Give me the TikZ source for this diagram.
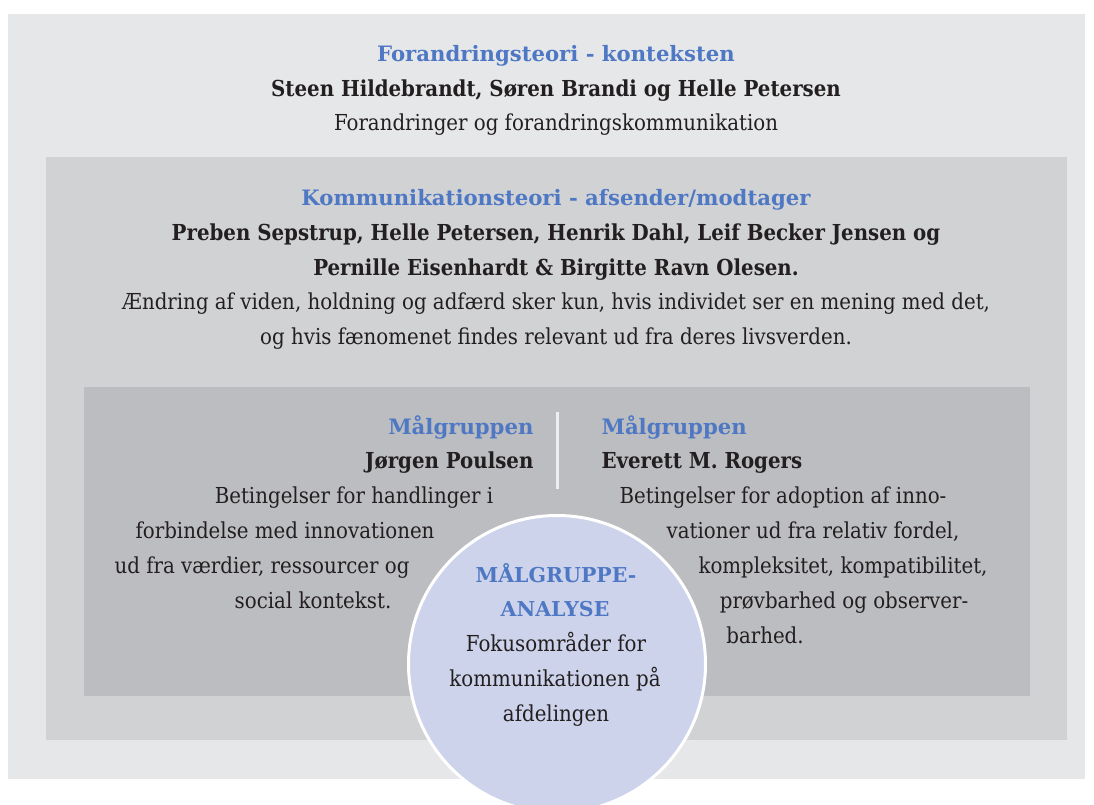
\documentclass[tikz,border=0pt]{standalone}
\usepackage{fontspec}
\setmainfont{DejaVu Serif Condensed}
\newfontfamily\overskriftfont{DejaVu Serif}
\definecolor{ydre}{HTML}{E6E7E9}
\definecolor{midt}{HTML}{D1D2D4}
\definecolor{indre}{HTML}{BCBDC0}
\definecolor{blaa}{HTML}{4F78C4}
\definecolor{moerk}{HTML}{231F20}
\definecolor{cirkelfarve}{HTML}{CDD3EB}
\newcommand{\brodtekst}{\fontsize{22}{26}\selectfont}
\newcommand{\overskrifttekst}{\overskriftfont\fontsize{21.2}{25}\selectfont\bfseries}

\tikzset{felt/.style={fill=#1},felt/.default={ydre},
overskrift/.style={text=blaa,font=\overskrifttekst,anchor=base},
navn/.style={text=moerk,font=\brodtekst\bfseries,anchor=base},
tekst/.style={text=moerk,font=\brodtekst,anchor=base}}

\begin{document}
\begin{tikzpicture}[x=1pt,y=-1pt]
\useasboundingbox (0,0) rectangle (1094,804);
\fill[felt] (8,14) rectangle (1085,779);
\fill[felt=midt] (46,157) rectangle (1067,740);
\fill[felt=indre] (84,387) rectangle (1030,696);
\draw[line width=3pt,draw=ydre!70!white] (557,412) -- (557,489);

\node[overskrift] (kontekst) at (556,61) {Forandringsteori - konteksten};
\node[navn] (kontekstnavne) at (556,96) {Steen Hildebrandt, Søren Brandi og Helle Petersen};
\node[tekst] (konteksttekst) at (556,130) {Forandringer og forandringskommunikation};

\node[overskrift] (kommunikation) at (556,205) {Kommunikationsteori - afsender/modtager};
\node[navn] (kommunikationnavne1) at (556,240) {Preben Sepstrup, Helle Petersen, Henrik Dahl, Leif Becker Jensen og};
\node[navn] (kommunikationnavne2) at (556,275) {Pernille Eisenhardt \& Birgitte Ravn Olesen.};
\node[tekst] (kommunikationtekst1) at (556,309) {Ændring af viden, holdning og adfærd sker kun, hvis individet ser en mening med det,};
\node[tekst] (kommunikationtekst2) at (556,344) {og hvis fænomenet findes relevant ud fra deres livsverden.};

\node[overskrift,anchor=base east] (poulsen) at (537,434) {Målgruppen};
\node[navn,anchor=base east] (poulsennavn) at (537,468) {Jørgen Poulsen};
\node[tekst] (poulsen1) at (354,503) {Betingelser for handlinger i};
\node[tekst] (poulsen2) at (285,538) {forbindelse med innovationen};
\node[tekst] (poulsen3) at (262,573) {ud fra værdier, ressourcer og};
\node[tekst] (poulsen4) at (313,608) {social kontekst.};

\node[overskrift,anchor=base west] (rogers) at (598,434) {Målgruppen};
\node[navn,anchor=base west] (rogersnavn) at (598,468) {Everett M. Rogers};
\node[tekst] (rogers1) at (783,503) {Betingelser for adoption af inno-};
\node[tekst] (rogers2) at (813,538) {vationer ud fra relativ fordel,};
\node[tekst] (rogers3) at (843,573) {kompleksitet, kompatibilitet,};
\node[tekst] (rogers4) at (844,608) {prøvbarhed og observer-};
\node[tekst] (rogers5) at (765,643) {barhed.};

\node[circle,minimum size=297pt,fill=cirkelfarve,draw=white,line width=3pt] (analyse) at (557,664) {};
\node[overskrift,font=\overskriftfont\fontsize{20.5}{24}\selectfont\bfseries] (analyse1) at (556,582) {MÅLGRUPPE-};
\node[overskrift,font=\overskriftfont\fontsize{20.5}{24}\selectfont\bfseries] (analyse2) at (555,616) {ANALYSE};
\node[tekst] (analyse3) at (556,651) {Fokusområder for};
\node[tekst] (analyse4) at (555,686) {kommunikationen på};
\node[tekst] (analyse5) at (556,721) {afdelingen};
\end{tikzpicture}
\end{document}
